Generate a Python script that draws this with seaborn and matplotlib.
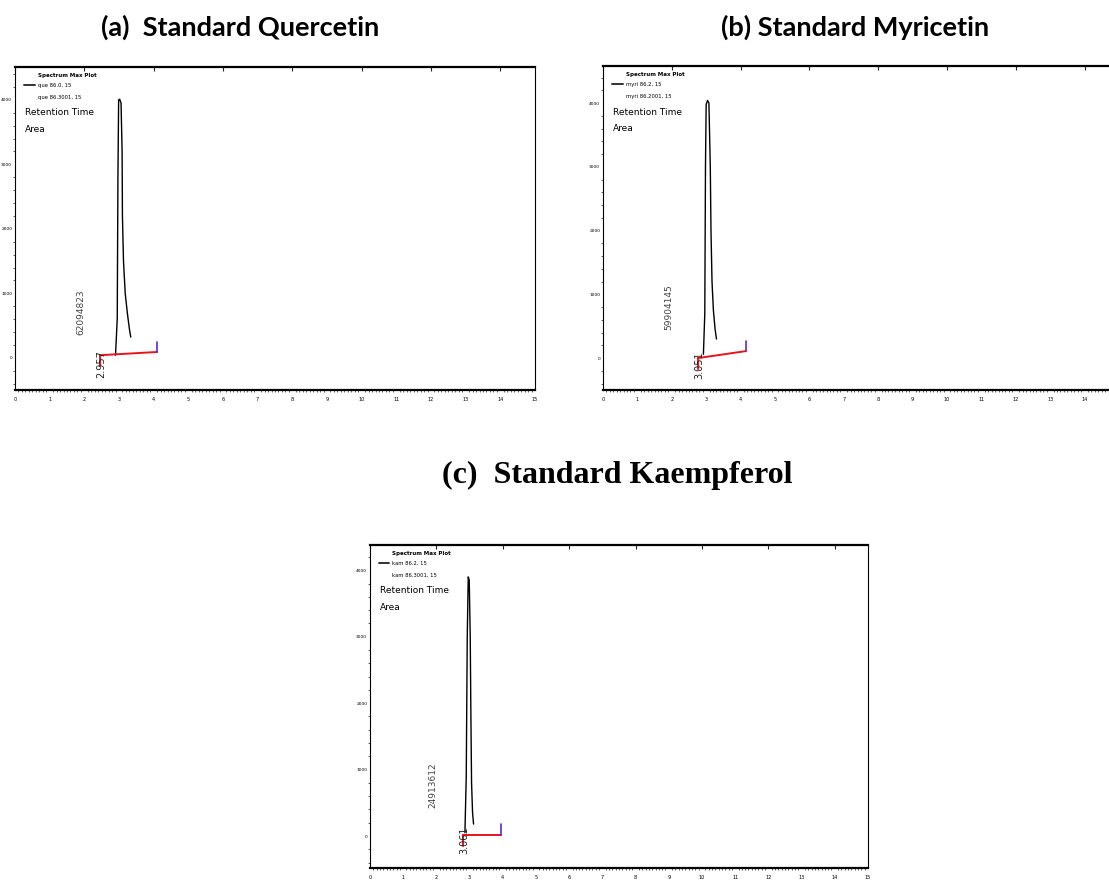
import numpy as np
import pandas as pd
import seaborn as sns
import matplotlib.pyplot as plt
from matplotlib.ticker import MultipleLocator

sns.set_theme(style="white")
plt.rcParams['font.family'] = ['DejaVu Sans']
plt.rcParams['text.color'] = 'black'

# Chromatogram traces (retention time in min, detector response in mAU)
que_rt = [2.90, 2.95, 2.97, 2.99, 3.02, 3.06, 3.09, 3.10, 3.13, 3.18, 3.24, 3.30, 3.34]
que_mau = [40, 600, 2800, 4000, 4010, 3950, 3200, 2200, 1500, 1000, 700, 450, 320]

myr_rt = [2.92, 2.96, 2.98, 3.00, 3.04, 3.08, 3.12, 3.14, 3.17, 3.21, 3.26, 3.30]
myr_mau = [60, 700, 3000, 3980, 4040, 4000, 3000, 2000, 1200, 750, 450, 300]

kam_rt = [2.86, 2.90, 2.93, 2.96, 2.99, 3.02, 3.04, 3.06, 3.09, 3.12]
kam_mau = [50, 900, 3000, 3900, 3850, 3000, 1800, 800, 350, 180]

# Integration marks: baseline start/end (rt, mAU)
que_base = [(2.45, 40), (4.10, 90)]
myr_base = [(2.75, 0), (4.15, 110)]
kam_base = [(2.80, 15), (3.95, 15)]

# Peak labels
que_label = ("2.957", "62094823")
myr_label = ("3.051", "59904145")
kam_label = ("3.061", "24913612")

legend_a = ["que 86.0, 15", "que 86.3001, 15"]
legend_b = ["myri 86.2, 15", "myri 86.2001, 15"]
legend_c = ["kam 86.2, 15", "kam 86.3001, 15"]

x_ticks = list(range(0, 16))
y_ticks = [0, 1000, 2000, 3000, 4000]

tick_font = ['Liberation Sans Narrow', 'DejaVu Sans']

fig = plt.figure(figsize=(11.09, 8.84), dpi=100)


def draw_panel(rect, ylim, rt, mau, base, labels, legend, label_pos, last_label=True):
    ax = fig.add_axes(rect)
    df = pd.DataFrame({"rt": rt, "mau": mau})
    sns.lineplot(data=df, x="rt", y="mau", ax=ax, color="black", lw=1.0,
                 estimator=None, sort=False)
    (x0, y0), (x1, y1) = base
    ax.plot([x0, x1], [y0, y1], color="#e8141c", lw=1.4)
    ax.plot([x0, x0], [y0, y0 - 170], color="#e8141c", lw=1.4)
    ax.plot([x1, x1], [y1, y1 + 160], color="#5a2ad0", lw=1.2)

    rt_lab, area_lab = labels
    ax.text(label_pos[0], label_pos[1], area_lab, rotation=90, fontsize=6.5,
            ha="center", va="center", color="#444444")
    ax.text(x0 + 0.05, label_pos[2], rt_lab, rotation=90, fontsize=7,
            ha="center", va="center", color="#222222")

    ax.set_xlim(0, 15)
    ax.set_ylim(*ylim)
    ax.set_xticks(x_ticks)
    xlabels = [str(t) for t in x_ticks]
    if not last_label:
        # the right end of this panel is cropped off in the source figure
        xlabels[-1] = ""
    ax.set_xticklabels(xlabels)
    ax.set_yticks(y_ticks)
    ax.xaxis.set_minor_locator(MultipleLocator(0.1))
    ax.yaxis.set_minor_locator(MultipleLocator(200))
    ax.tick_params(which="major", direction="out", length=2.5, width=0.8,
                   labelsize=3.6, colors="black")
    ax.tick_params(axis="x", which="major", pad=2.5)
    ax.tick_params(axis="y", which="major", length=1.5, pad=0.5, labelsize=3.2)
    ax.tick_params(which="minor", direction="out", length=1.5, width=0.5,
                   left=True, bottom=True)
    ax.secondary_xaxis("top").tick_params(direction="in", length=3, width=0.8,
                                           labeltop=False)
    for lab in ax.get_xticklabels() + ax.get_yticklabels():
        lab.set_family(tick_font)
    ax.set_xlabel("")
    ax.set_ylabel("")
    for side in ["top", "bottom"]:
        ax.spines[side].set_linewidth(1.6)
    for side in ["left", "right"]:
        ax.spines[side].set_linewidth(0.8)
    for s in ax.spines.values():
        s.set_color("black")

    # pseudo legend block
    ax.text(0.045, 0.975, "Spectrum Max Plot", transform=ax.transAxes,
            fontsize=4, fontweight="bold", va="center", family=tick_font)
    ax.plot([0.018, 0.038], [0.944, 0.944], transform=ax.transAxes, color="#333333", lw=1.4)
    ax.text(0.045, 0.944, legend[0], transform=ax.transAxes, fontsize=3.8,
            va="center", family=tick_font)
    ax.text(0.045, 0.907, legend[1], transform=ax.transAxes, fontsize=3.8,
            va="center", family=tick_font)
    ax.text(0.02, 0.858, "Retention Time", transform=ax.transAxes, fontsize=6.5,
            va="center", family=tick_font)
    ax.text(0.02, 0.808, "Area", transform=ax.transAxes, fontsize=6.5,
            va="center", family=tick_font)
    return ax


draw_panel([0.0135, 0.5588, 0.4689, 0.3654], (-500, 4510), que_rt, que_mau,
           que_base, que_label, legend_a, (1.9, 700, -90))
draw_panel([0.5437, 0.5588, 0.4653, 0.3665], (-500, 4580), myr_rt, myr_mau,
           myr_base, myr_label, legend_b, (1.9, 800, -110), last_label=False)
draw_panel([0.3336, 0.0181, 0.4491, 0.3654], (-481, 4380), kam_rt, kam_mau,
           kam_base, kam_label, legend_c, (1.9, 770, -60))

fig.text(240 / 1109, 1 - 27 / 884, "(a)  Standard Quercetin", ha="center", va="center",
         fontsize=19.5, fontweight="bold", color="black", family=["Lato", "DejaVu Sans"])
fig.text(855 / 1109, 1 - 27 / 884, "(b) Standard Myricetin", ha="center", va="center",
         fontsize=19.5, fontweight="bold", color="black", family=["Lato", "DejaVu Sans"])
fig.text(617 / 1109, 1 - 475 / 884, "(c)  Standard Kaempferol", ha="center", va="center",
         fontsize=23, fontweight="bold", color="black",
         family=["Liberation Serif", "DejaVu Serif"])

fig.savefig("out.png", dpi=100)
